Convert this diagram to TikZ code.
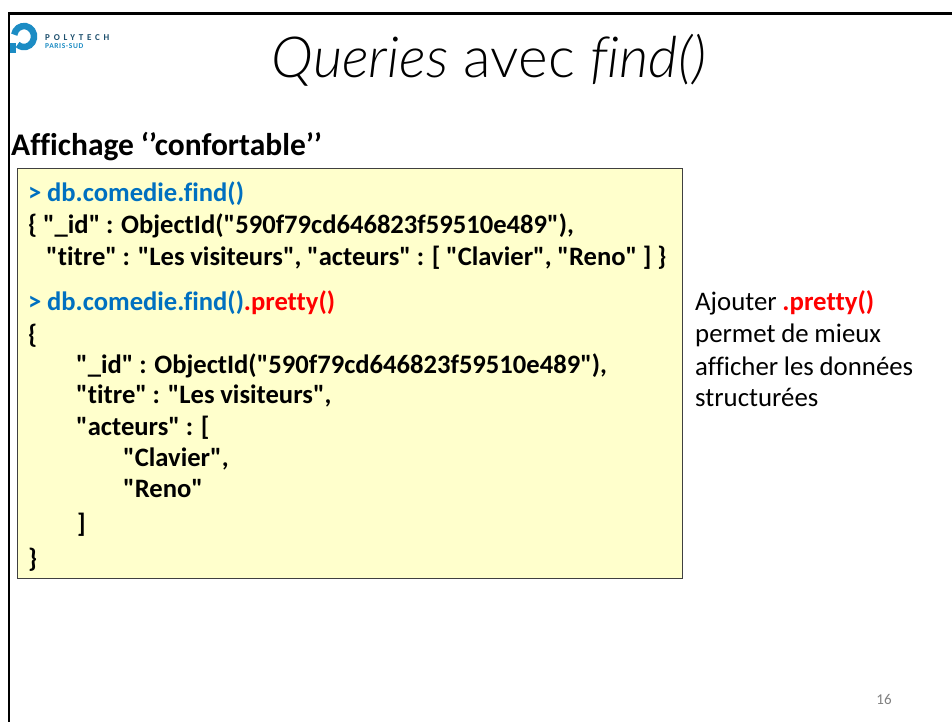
\documentclass[tikz,border=0pt]{standalone}
\usepackage{fontspec}
\setmainfont{Carlito}[Ligatures={TeXOff,CommonOff}]
\newfontfamily\codefont{Carlito}[WordSpace=0.95,Ligatures={TeXOff,CommonOff}]
\newfontfamily\lightfont{Lato Light}[ItalicFont={Lato Light Italic},Ligatures={TeXOff,CommonOff}]
\definecolor{boxfill}{RGB}{255,255,204}
\definecolor{cmdblue}{RGB}{0,112,192}
\definecolor{logoblue}{RGB}{28,140,196}
\definecolor{logodark}{RGB}{30,80,110}
\tikzset{
  codeline/.style={anchor=base west,inner sep=0pt,font=\fontsize{26.6}{26.6}\codefont\bfseries},
  notetext/.style={anchor=base west,inner sep=0pt,font=\fontsize{26.8}{26.8}\selectfont},
}
\begin{document}
\begin{tikzpicture}[x=1pt,y=-1pt]
\useasboundingbox (0,0) rectangle (952,722);
\fill[white] (0,0) rectangle (952,722);
% frame
\draw[line width=2.6pt] (9,722) -- (9,13.5) -- (952,13.5);
% logo
\draw[logoblue,line width=6.5pt] (14.2,34.7) arc (170:-130:10pt and 10.5pt);
\fill[logoblue] (10,43) rectangle (16,53);
\node[anchor=base west,inner sep=0pt,text=logodark,font=\fontsize{9}{9}\selectfont\bfseries\addfontfeature{LetterSpace=42}] (polytech) at (45,41) {POLYTECH};
\node[anchor=base west,inner sep=0pt,text=logoblue,font=\fontsize{7.5}{7.5}\selectfont\bfseries\addfontfeature{LetterSpace=8}] (paris) at (45,48.5) {PARIS-SUD};
% title
\node[anchor=base,inner sep=0pt,font=\fontsize{56.7}{56.7}\lightfont,text=black] (title) at (489,78) {\textit{Queries} avec \textit{find()}};
% subtitle
\node[anchor=base west,inner sep=0pt,font=\fontsize{31.5}{31.5}\selectfont\bfseries] (sub) at (11,156) {Affichage ‘’confortable’’};
% box
\node[draw=black!75,line width=0.8pt,fill=boxfill,anchor=north west,outer sep=0pt,minimum width=665.4pt,minimum height=410pt,inner sep=0pt] (box) at (17.3,168.3) {};
\node[codeline,text=cmdblue] (l1) at (28,201) {> db.comedie.find()};
\node[codeline] (l2) at (28,233) {\{ "\_id" : ObjectId("590f79cd646823f59510e489"),};
\node[codeline] (l3) at (46,265) {"titre" : "Les visiteurs", "acteurs" : [ "Clavier", "Reno" ] \}};
\node[codeline] (l4) at (28,310) {\textcolor{cmdblue}{> db.comedie.find()}\textcolor{red}{.pretty()}};
\node[codeline] (l5) at (28,343) {\{};
\node[codeline] (l6) at (76,373) {"\_id" : ObjectId("590f79cd646823f59510e489"),};
\node[codeline] (l7) at (76,403) {"titre" : "Les visiteurs",};
\node[codeline] (l8) at (76,435) {"acteurs" : [};
\node[codeline] (l9) at (123,466) {"Clavier",};
\node[codeline] (l10) at (123,497) {"Reno"};
\node[codeline] (l11) at (77,532) {]};
\node[codeline] (l12) at (28,567) {\}};
% note
\node[notetext] (n1) at (695,310) {Ajouter \textbf{\textcolor{red}{.pretty()}}};
\node[notetext] (n2) at (695,342) {permet de mieux};
\node[notetext] (n3) at (695,375) {afficher les données};
\node[notetext] (n4) at (695,406) {structurées};
% page number
\node[anchor=base,inner sep=0pt,font=\fontsize{15}{15}\selectfont,text=black!50] (page) at (884,704) {16};
\end{tikzpicture}
\end{document}
